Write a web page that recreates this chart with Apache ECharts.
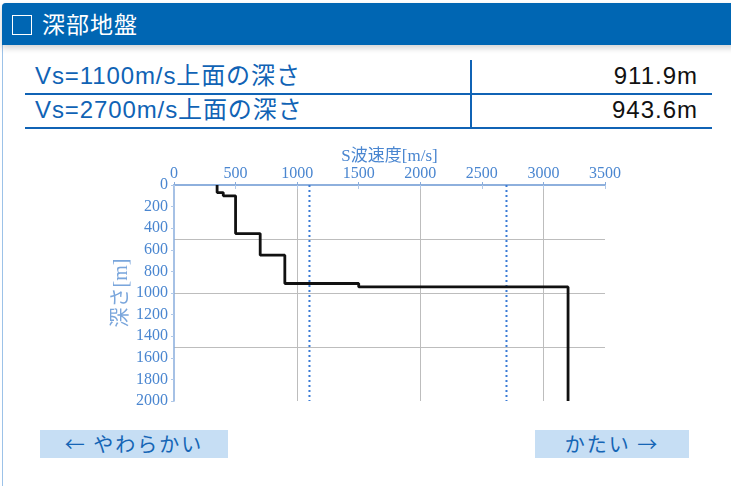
<!DOCTYPE html>
<html>
<head>
<meta charset="utf-8">
<script src="https://cdn.jsdelivr.net/npm/echarts@6/dist/echarts.min.js"></script>
<style>
html, body { margin: 0; padding: 0; background: #fff; }
body { width: 731px; height: 486px; position: relative; overflow: hidden; font-family: "Noto Sans CJK JP", "Noto Sans", sans-serif; }
#panel { position: absolute; left: 2px; top: 3px; width: 740px; height: 500px; border-left: 1px solid #9cc2e8; border-top: 1px solid #b9cfe6; border-radius: 4px 0 0 0; }
#head { position: absolute; left: 2px; top: 3px; width: 740px; height: 42px; background: #0066b3; border-radius: 4px 0 0 0; box-shadow: 0 3px 6px rgba(0,0,0,0.18); color: #fff; font-size: 23px; line-height: 42px; }
#head .box { position: absolute; left: 10px; top: 12px; width: 18px; height: 18px; border: 1.5px solid #fff; }
#head .ttl { position: absolute; left: 40px; top: -1px; letter-spacing: 1px; }
.row { position: absolute; left: 25px; width: 687px; height: 32px; border-bottom: 2px solid #1063b5; }
.row .k { position: absolute; left: 10px; top: 0; color: #1063b5; font-family: "Liberation Sans", "Noto Sans CJK JP", sans-serif; font-size: 24px; line-height: 30px; letter-spacing: 0.9px; }
.row .v { position: absolute; right: 14px; top: 0; color: #111; font-family: "Liberation Sans", sans-serif; font-size: 24px; line-height: 30px; letter-spacing: 1px; }
#div { position: absolute; left: 470px; top: 60px; width: 2px; height: 68px; background: #1063b5; }
.btn { position: absolute; top: 430px; height: 28px; background: #c6def4; color: #1565b5; font-size: 20px; line-height: 28px; text-align: center; letter-spacing: 2px; }
#chart { position: absolute; left: 0; top: 140px; width: 731px; height: 290px; }
</style>
</head>
<body>
<div id="panel"></div>
<div id="head"><span class="box"></span><span class="ttl">深部地盤</span></div>
<div class="row" style="top:61px"><span class="k" id="k1"></span><span class="v" id="v1"></span></div>
<div class="row" style="top:95px"><span class="k" id="k2"></span><span class="v" id="v2"></span></div>
<div id="div"></div>
<div class="btn" style="left:40px;width:188px">← やわらかい</div>
<div class="btn" style="left:535px;width:154px">かたい →</div>
<div id="chart"></div>
<script>
// layer tops [m] and S-wave velocity of each layer [m/s]
var layerTop = [0, 70, 100, 450, 650, 911.9, 943.6];
var layerVs = [350, 400, 500, 700, 900, 1500, 3200];
var bottomDepth = 2000;
// reference velocities (dotted lines) and depth of their top surface
var refVs = [1100, 2700];
var refDepth = [911.9, 943.6];

document.getElementById('k1').textContent = 'Vs=' + refVs[0] + 'm/s上面の深さ';
document.getElementById('k2').textContent = 'Vs=' + refVs[1] + 'm/s上面の深さ';
document.getElementById('v1').textContent = refDepth[0].toFixed(1) + 'm';
document.getElementById('v2').textContent = refDepth[1].toFixed(1) + 'm';

// build step profile
var profile = [];
for (var i = 0; i < layerVs.length; i++) {
    var bot = i + 1 < layerTop.length ? layerTop[i + 1] : bottomDepth;
    profile.push([layerVs[i], layerTop[i]]);
    profile.push([layerVs[i], bot]);
}

var blue = '#4a86d0';
var serif = '"Liberation Serif", "Noto Sans CJK JP", serif';
var plain = function (v) { return String(v); };
var chart = echarts.init(document.getElementById('chart'));
var option = {
    animation: false,
    grid: { left: 174, right: 126, top: 45, bottom: 29, outerBoundsMode: 'none' },
    xAxis: [
        {
            type: 'value', position: 'top', min: 0, max: 3500, interval: 500,
            name: 'S波速度[m/s]', nameLocation: 'middle', nameGap: 20, nameMoveOverlap: false,
            nameTextStyle: { color: blue, fontFamily: serif, fontSize: 17 },
            axisLine: { lineStyle: { color: '#88acdc', width: 1.5 } },
            axisTick: { show: true, length: 3, lineStyle: { color: '#88acdc' } },
            axisLabel: { color: blue, fontFamily: serif, fontSize: 16, margin: 3, formatter: plain },
            splitLine: { show: false }
        },
        {
            type: 'value', position: 'bottom', min: 0, max: 3500, interval: 500,
            axisLine: { lineStyle: { color: '#88acdc', width: 1.5 } },
            axisTick: { show: true, length: 4, lineStyle: { color: '#b0c8e8' } },
            axisLabel: { show: false },
            splitLine: { show: false }
        },
        {
            type: 'value', position: 'bottom', min: 0, max: 3500, interval: 1000,
            axisLine: { show: false }, axisTick: { show: false }, axisLabel: { show: false },
            splitLine: { show: true, showMinLine: false, showMaxLine: false, lineStyle: { color: '#bdbdbd', width: 1 } }
        }
    ],
    yAxis: [
        {
            type: 'value', inverse: true, min: 0, max: bottomDepth, interval: 200,
            name: '深さ[m]', nameLocation: 'middle', nameGap: 42, nameRotate: 90, nameMoveOverlap: false,
            nameTextStyle: { color: '#7aa6dc', fontFamily: serif, fontSize: 20 },
            axisLine: { show: true, lineStyle: { color: '#88acdc', width: 1.5 } },
            axisTick: { show: true, length: 3, lineStyle: { color: '#b0c8e8' } },
            axisLabel: { color: blue, fontFamily: serif, fontSize: 16, margin: 6, formatter: plain },
            splitLine: { show: false }
        },
        {
            type: 'value', inverse: true, min: 0, max: bottomDepth, interval: 500,
            axisLine: { show: false }, axisTick: { show: false }, axisLabel: { show: false },
            splitLine: { show: true, showMinLine: false, showMaxLine: false, lineStyle: { color: '#bdbdbd', width: 1 } }
        }
    ],
    series: [
        {
            type: 'line', data: [[refVs[0], 0], [refVs[0], bottomDepth]],
            symbol: 'none', lineStyle: { color: '#3a7bd5', width: 2, type: [2, 3] }, z: 3
        },
        {
            type: 'line', data: [[refVs[1], 0], [refVs[1], bottomDepth]],
            symbol: 'none', lineStyle: { color: '#3a7bd5', width: 2, type: [2, 3] }, z: 3
        },
        {
            type: 'line', data: profile, symbol: 'none',
            lineStyle: { color: '#111', width: 2.8 }, z: 4
        }
    ]
};
chart.setOption(option);
</script>
</body>
</html>
